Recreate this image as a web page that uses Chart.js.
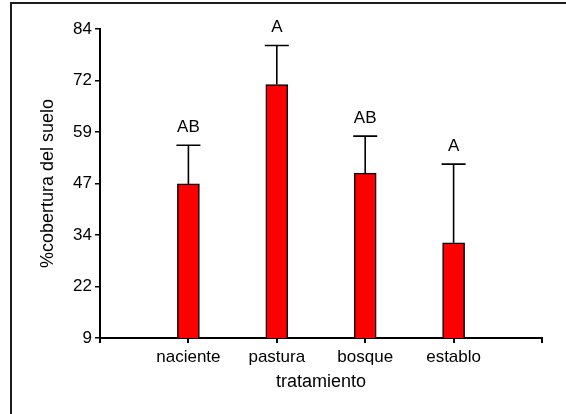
<!DOCTYPE html>
<html>
<head>
<meta charset="utf-8">
<script src="https://cdn.jsdelivr.net/npm/chart.js@4/dist/chart.umd.min.js"></script>
<style>
  html, body { margin: 0; padding: 0; background: #fff; }
  #wrap { width: 566px; height: 414px; }
</style>
</head>
<body>
<div id="wrap"><canvas id="c" width="566" height="414"></canvas></div>
<script>
// Soil cover (%) by treatment, with error bar and significance letters
const categories   = ['naciente', 'pastura', 'bosque', 'establo'];
const meanCover    = [46.4, 70.5, 49.0, 32.1];
const errorCover   = [9.4, 9.5, 9.0, 19.1];
const groupLetters = ['AB', 'A', 'AB', 'A'];
const yTickLabels  = ['9', '22', '34', '47', '59', '72', '84'];

Chart.defaults.font.family = '"Liberation Sans", Arial, Helvetica, sans-serif';
Chart.defaults.color = '#000';

// empty slots at both ends give the axis its outer tick marks
const axisLabels = [''].concat(categories, ['']);
const barData = [null].concat(meanCover, [null]);

const framePlugin = {
  id: 'frame',
  beforeDraw(chart) {
    const ctx = chart.ctx;
    ctx.save();
    ctx.fillStyle = '#fff';
    ctx.fillRect(0, 0, chart.width, chart.height);
    ctx.strokeStyle = '#1c1c1c';
    ctx.lineWidth = 2;
    ctx.beginPath();
    ctx.moveTo(11, chart.height + 5);
    ctx.lineTo(11, 3);
    ctx.lineTo(chart.width + 5, 3);
    ctx.stroke();
    ctx.restore();
  }
};

const errorPlugin = {
  id: 'errorBars',
  afterDatasetsDraw(chart) {
    const ctx = chart.ctx;
    const y = chart.scales.y;
    const meta = chart.getDatasetMeta(0);
    ctx.save();
    ctx.strokeStyle = '#000';
    ctx.lineWidth = 1.6;
    ctx.fillStyle = '#000';
    ctx.font = '17px "Liberation Sans", Arial, sans-serif';
    ctx.textAlign = 'center';
    ctx.textBaseline = 'middle';
    categories.forEach((c, i) => {
      const bar = meta.data[i + 1];
      const x = bar.x;
      const yBar = y.getPixelForValue(meanCover[i]);
      const yTop = y.getPixelForValue(meanCover[i] + errorCover[i]);
      ctx.beginPath();
      ctx.moveTo(x, yBar);
      ctx.lineTo(x, yTop);
      ctx.moveTo(x - 12, yTop);
      ctx.lineTo(x + 12, yTop);
      ctx.stroke();
      ctx.fillText(groupLetters[i], x, yTop - 18);
    });
    ctx.restore();
  }
};

new Chart(document.getElementById('c'), {
  type: 'bar',
  data: {
    labels: axisLabels,
    datasets: [{
      data: barData,
      backgroundColor: '#ff0000',
      borderColor: '#000',
      borderWidth: 1.5,
      barThickness: 22
    }]
  },
  options: {
    responsive: false,
    animation: false,
    devicePixelRatio: 1,
    layout: { padding: { top: 29, right: 24, bottom: 0, left: 0 } },
    plugins: { legend: { display: false }, tooltip: { enabled: false } },
    scales: {
      x: {
        offset: false,
        afterFit(scale) { scale.height = 76; },
        border: { display: true, color: '#000', width: 2 },
        grid: { offset: false, drawOnChartArea: false, drawTicks: true, tickLength: 5, color: '#000', lineWidth: 2 },
        ticks: { font: { size: 17 }, padding: 4, maxRotation: 0, autoSkip: false },
        title: { display: true, text: 'tratamiento', font: { size: 18 }, padding: { top: 0, bottom: 21 } }
      },
      y: {
        min: 9,
        max: 84,
        afterFit(scale) { scale.width = 100; },
        border: { display: true, color: '#000', width: 2 },
        grid: { drawOnChartArea: false, drawTicks: true, tickLength: 5, color: '#000', lineWidth: 1.5 },
        ticks: {
          stepSize: 12.5,
          font: { size: 17 },
          padding: 3,
          callback: (v, i) => yTickLabels[i]
        },
        title: { display: true, text: '%cobertura del suelo', font: { size: 18 }, padding: { top: 37, bottom: 0 } }
      }
    }
  },
  plugins: [framePlugin, errorPlugin]
});
</script>
</body>
</html>
